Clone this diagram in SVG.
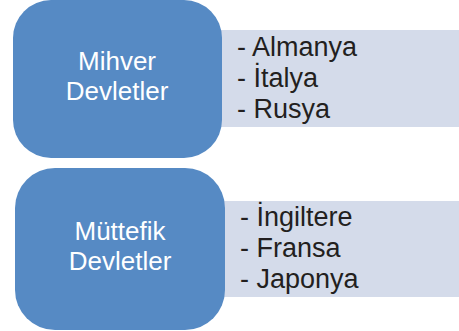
<svg xmlns="http://www.w3.org/2000/svg" width="459" height="331" viewBox="0 0 459 331">
<style>
.main{fill:#568ac4}
.side{fill:#d4dbea}
.lbl{font-family:"Liberation Sans",Arial,sans-serif;font-size:26px;fill:#ffffff;text-anchor:middle}
.item{font-family:"Liberation Sans",Arial,sans-serif;font-size:27px;fill:#231f20}
</style>
<rect width="459" height="331" fill="#ffffff"/>
<g id="list1">
<rect class="side" x="215" y="30" width="244" height="97"/>
<text class="item" x="237" y="56">- Almanya</text>
<text class="item" x="237" y="87">- İtalya</text>
<text class="item" x="237" y="118">- Rusya</text>
</g>
<g id="list2">
<rect class="side" x="218" y="201" width="241" height="96"/>
<text class="item" x="240" y="226">- İngiltere</text>
<text class="item" x="240" y="257">- Fransa</text>
<text class="item" x="240" y="288">- Japonya</text>
</g>
<g id="mihver">
<rect class="main" x="13" y="0" width="209" height="158" rx="38" ry="38"/>
<text class="lbl" x="117" y="70">Mihver</text>
<text class="lbl" x="117" y="100">Devletler</text>
</g>
<g id="muttefik">
<rect class="main" x="15" y="168" width="210" height="162" rx="40" ry="40"/>
<text class="lbl" x="120" y="240">Müttefik</text>
<text class="lbl" x="120" y="270">Devletler</text>
</g>
<g id="connectors"></g>
</svg>
